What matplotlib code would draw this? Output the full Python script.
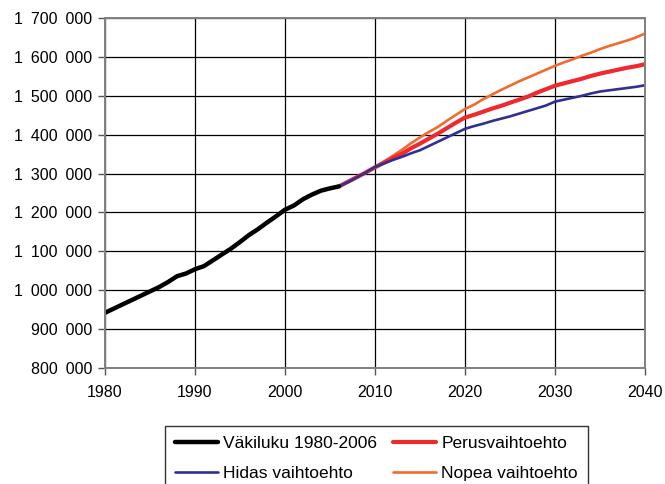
import matplotlib
matplotlib.use("Agg")
import matplotlib.pyplot as plt
from matplotlib.ticker import FuncFormatter

plt.rcParams['font.family'] = ['Liberation Sans', 'DejaVu Sans']

# population 1980-2006 (thousands)
years_hist = list(range(1980, 2007))
pop_hist = [942, 953, 964, 975, 986, 997, 1008, 1021, 1036, 1043,
            1054, 1062, 1077, 1092, 1107, 1124, 1142, 1157, 1174, 1190,
            1207, 1218, 1234, 1246, 1256, 1262, 1267]

# projections 2006-2040 (thousands)
years_proj = list(range(2006, 2041))
perus = [1267, 1279, 1291, 1303, 1316, 1328, 1340, 1351, 1365, 1377,
         1390, 1403, 1417, 1431, 1444, 1451, 1459, 1467, 1474, 1482,
         1490, 1498, 1508, 1517, 1526, 1532, 1538, 1544, 1551, 1557,
         1562, 1567, 1572, 1576, 1581]
hidas = [1267, 1278, 1290, 1303, 1317, 1326, 1335, 1343, 1352, 1360,
         1371, 1382, 1393, 1404, 1415, 1422, 1428, 1435, 1441, 1447,
         1454, 1461, 1468, 1475, 1485, 1490, 1495, 1500, 1506, 1511,
         1514, 1517, 1520, 1523, 1527]
nopea = [1267, 1279, 1291, 1304, 1317, 1331, 1346, 1361, 1378, 1393,
         1407, 1420, 1436, 1451, 1466, 1477, 1491, 1503, 1515, 1526,
         1537, 1547, 1557, 1567, 1577, 1586, 1594, 1603, 1611, 1620,
         1628, 1635, 1642, 1650, 1660]

labels = ["Väkiluku 1980-2006", "Perusvaihtoehto", "Hidas vaihtoehto", "Nopea vaihtoehto"]

fig = plt.figure(figsize=(6.65, 4.84), dpi=100)
ax = fig.add_axes([105/665, 1-368/484, 540/665, 350/484])

l_nopea, = ax.plot(years_proj, [v*1000 for v in nopea], color='#F26A2E', lw=1.9, solid_capstyle='round')
l_perus, = ax.plot(years_proj, [v*1000 for v in perus], color='#EE2A2F', lw=3.0, solid_capstyle='round')
l_hidas, = ax.plot(years_proj, [v*1000 for v in hidas], color='#2E3192', lw=1.9, solid_capstyle='round')
l_hist, = ax.plot(years_hist, [v*1000 for v in pop_hist], color='black', lw=3.2, solid_capstyle='round')

ax.set_xlim(1980, 2040)
ax.set_ylim(800000, 1700000)
ax.set_xticks(range(1980, 2041, 10))
ax.set_yticks(range(800000, 1700001, 100000))
ax.yaxis.set_major_formatter(FuncFormatter(lambda v, p: f"{int(v):,}".replace(",", "\u2002")))
ax.tick_params(labelsize=11.5, direction='out', length=5, color='#555555', width=1)
ax.tick_params(axis='y', pad=4)
ax.tick_params(axis='x', pad=7)
ax.grid(True, color='black', lw=0.9)
ax.set_axisbelow(True)
for s in ax.spines.values():
    s.set_color('#808080')
    s.set_linewidth(1.4)

leg = fig.legend([l_hist, l_hidas, l_perus, l_nopea],
                 [labels[0], labels[2], labels[1], labels[3]],
                 ncol=2, loc='upper left', bbox_to_anchor=(165/665, 1-426/484),
                 fontsize=12.5, frameon=True, fancybox=False, handlelength=2.5,
                 handletextpad=0.3, columnspacing=0.9, borderpad=0.55,
                 labelspacing=0.85, borderaxespad=0)
leg.get_frame().set_edgecolor('black')
leg.get_frame().set_linewidth(1.0)

fig.savefig("out.png", dpi=100)
